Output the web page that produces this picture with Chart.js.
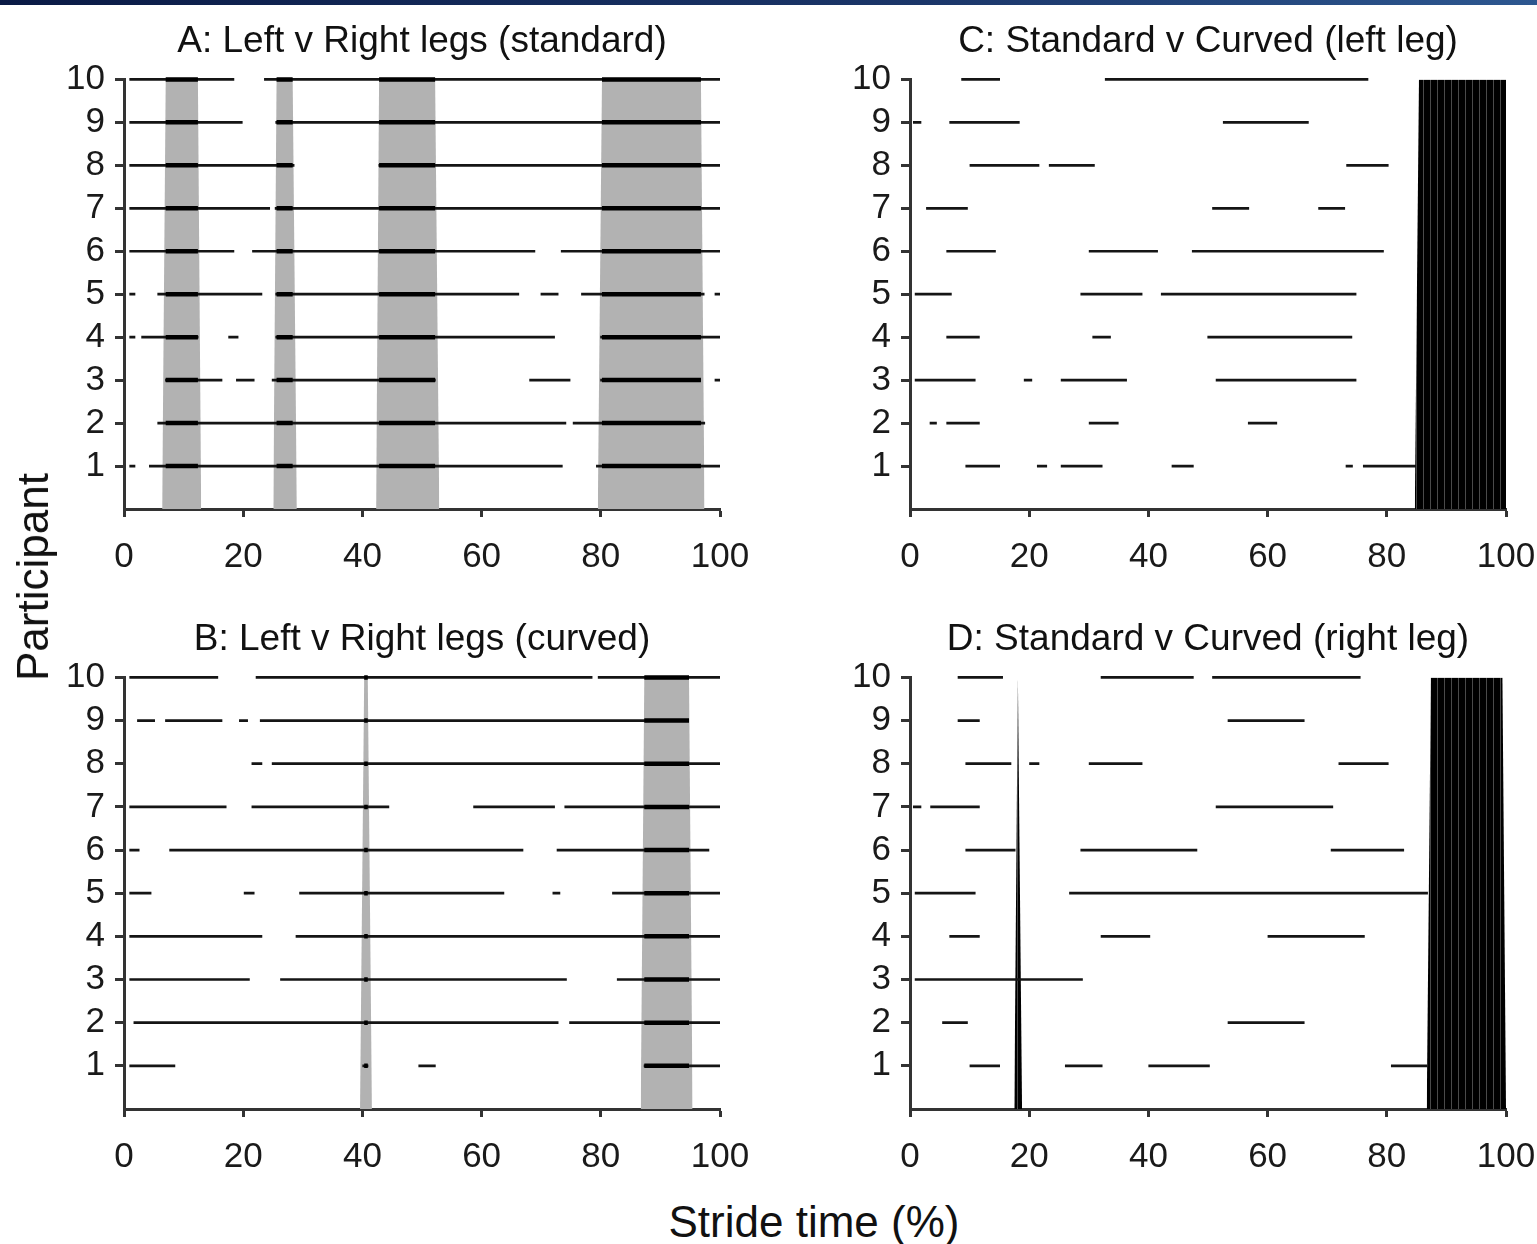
<!DOCTYPE html>
<html lang="en">
<head>
  <meta charset="UTF-8">
  <title>Stride time by participant</title>
  <script src="https://cdn.jsdelivr.net/npm/chart.js"></script>
  <style>
    body { margin: 0; background: #fff; width: 1537px; height: 1244px; position: relative; overflow: hidden;
           font-family: "Liberation Sans", Arial, sans-serif; color: #111; }
    .band { position: absolute; left: 0; top: 0; width: 1537px; height: 5px;
            background: linear-gradient(90deg, #0a1a45, #1b3669 60%, #2d5790); }
    canvas { position: absolute; }
    #ylab { position: absolute; left: 33px; top: 577px; font-size: 44px; white-space: nowrap;
            transform: translate(-50%, -50%) rotate(-90deg); }
    #xlab { position: absolute; left: 814px; top: 1222px; font-size: 44px; white-space: nowrap;
            transform: translate(-50%, -50%); }
  </style>
</head>
<body>
  <div class="band"></div>
  <canvas id="chartA" width="750" height="567" style="left:0;top:17px"></canvas>
  <canvas id="chartC" width="750" height="567" style="left:786px;top:17px"></canvas>
  <canvas id="chartB" width="750" height="569" style="left:0;top:615px"></canvas>
  <canvas id="chartD" width="750" height="569" style="left:786px;top:615px"></canvas>
  <div id="ylab">Participant</div>
  <div id="xlab">Stride time (%)</div>

  <script>
    const xTicks = [0, 20, 40, 60, 80, 100];
    const participants = [1, 2, 3, 4, 5, 6, 7, 8, 9, 10];

    const titleA = "A: Left v Right legs (standard)";
    const titleB = "B: Left v Right legs (curved)";
    const titleC = "C: Standard v Curved (left leg)";
    const titleD = "D: Standard v Curved (right leg)";

    // [participant, start %, end %]
    const segA = [
      [10, 0.9, 18.5], [10, 23.5, 100],
      [9, 0.9, 19.9], [9, 25.4, 100],
      [8, 0.9, 28.6], [8, 42.7, 100],
      [7, 0.9, 24.5], [7, 25.3, 100],
      [6, 0.9, 18.5], [6, 21.5, 69.0], [6, 73.3, 100],
      [5, 0.9, 1.9], [5, 5.6, 23.2], [5, 25.4, 66.3], [5, 69.9, 72.9], [5, 76.7, 97.4], [5, 99.1, 100],
      [4, 0.9, 1.9], [4, 2.9, 12.5], [4, 17.5, 19.2], [4, 25.4, 72.3], [4, 79.9, 100],
      [3, 6.9, 16.5], [3, 18.8, 21.9], [3, 24.8, 52.3], [3, 68.0, 74.9], [3, 79.9, 96.8], [3, 99.1, 100],
      [2, 5.6, 74.2], [2, 75.3, 97.5],
      [1, 0.9, 1.9], [1, 4.2, 73.6], [1, 79.2, 100]
    ];
    const segB = [
      [10, 0.9, 15.8], [10, 22.1, 78.6], [10, 79.5, 100],
      [9, 2.2, 5.2], [9, 6.9, 16.5], [9, 19.3, 20.8], [9, 22.8, 94.8],
      [8, 21.4, 23.2], [8, 24.8, 100],
      [7, 0.9, 17.2], [7, 21.4, 44.5], [7, 58.6, 72.3], [7, 73.9, 100],
      [6, 0.9, 2.6], [6, 7.6, 67.0], [6, 72.6, 98.2],
      [5, 0.9, 4.6], [5, 20.1, 21.9], [5, 29.4, 63.8], [5, 71.9, 73.2], [5, 81.9, 100],
      [4, 0.9, 23.2], [4, 28.8, 100],
      [3, 0.9, 21.1], [3, 26.2, 74.3], [3, 82.7, 100],
      [2, 1.6, 72.9], [2, 74.7, 100],
      [1, 0.9, 8.6], [1, 40.0, 41.0], [1, 49.4, 52.3], [1, 87.2, 100]
    ];
    const segC = [
      [10, 8.6, 15.1], [10, 32.7, 76.9],
      [9, 0.5, 1.9], [9, 6.6, 18.4], [9, 52.5, 66.9],
      [8, 10.0, 21.7], [8, 23.3, 31.0], [8, 73.2, 80.3],
      [7, 2.7, 9.7], [7, 50.7, 56.9], [7, 68.5, 73.0],
      [6, 6.1, 14.4], [6, 30.0, 41.6], [6, 47.3, 79.5],
      [5, 0.8, 7.0], [5, 28.6, 39.0], [5, 42.1, 74.9],
      [4, 6.1, 11.7], [4, 30.6, 33.7], [4, 49.9, 74.2],
      [3, 0.8, 11.0], [3, 19.1, 20.5], [3, 25.3, 36.4], [3, 51.3, 74.9],
      [2, 3.3, 4.5], [2, 6.1, 11.7], [2, 30.0, 35.0], [2, 56.7, 61.6],
      [1, 9.3, 15.1], [1, 21.3, 23.0], [1, 25.3, 32.3], [1, 43.9, 47.6], [1, 73.1, 74.3], [1, 76.0, 84.9]
    ];
    const segD = [
      [10, 8.0, 15.6], [10, 32.0, 47.6], [10, 50.7, 75.6],
      [9, 8.0, 11.7], [9, 53.3, 66.2],
      [8, 9.3, 17.0], [8, 20.0, 21.7], [8, 30.0, 39.0], [8, 71.9, 80.3],
      [7, 0.5, 1.9], [7, 3.4, 11.7], [7, 51.3, 71.0],
      [6, 9.3, 17.7], [6, 28.6, 48.2], [6, 70.6, 82.9],
      [5, 0.8, 11.0], [5, 26.7, 86.9],
      [4, 6.6, 11.7], [4, 32.0, 40.3], [4, 60.0, 76.3],
      [3, 0.8, 29.0],
      [2, 5.4, 9.7], [2, 53.3, 66.2],
      [1, 10.0, 15.1], [1, 26.0, 32.3], [1, 40.0, 50.3], [1, 80.7, 86.8]
    ];

    // significant clusters: [start at 0, start at 10, end at 10, end at 0]
    const shadeA = [[6.4, 7.0, 12.4, 12.95], [25.05, 25.6, 28.3, 29.0], [42.3, 42.8, 52.2, 52.9], [79.5, 80.2, 96.8, 97.4]];
    const shadeB = [[39.6, 40.3, 40.9, 41.6], [86.7, 87.3, 94.8, 95.4]];
    const shadeC = [[84.7, 85.4, 100, 100]];
    const shadeD = [[17.5, 18.1, 18.1, 18.8], [86.7, 87.4, 99.4, 100]];

    const fontFamily = '"Liberation Sans", Arial, sans-serif';

    // black with thin grey vertical stripes
    function stripePattern() {
      const c = document.createElement("canvas");
      c.width = 7; c.height = 1;
      const g = c.getContext("2d");
      g.fillStyle = "#000"; g.fillRect(0, 0, 7, 1);
      g.fillStyle = "#4a4a4a"; g.fillRect(0, 0, 1, 1);
      return g.createPattern(c, "repeat");
    }

    function toPoints(segs) {
      const pts = [];
      segs.forEach(([p, s, e]) => {
        pts.push({ x: s, y: p }, { x: e, y: p }, { x: e, y: null });
      });
      return pts;
    }

    // parts of each segment lying inside a cluster
    function overlaps(segs, shades) {
      const out = [];
      segs.forEach(([p, s, e]) => {
        shades.forEach(([b1, t1, t2, b2]) => {
          const lo = Math.max(s, t1), hi = Math.min(e, t2);
          if (hi > lo) out.push([p, lo, hi]);
        });
      });
      return out;
    }

    function drawPanel(id, title, segs, shades, shadeColor, thick) {
      const datasets = [];
      shades.forEach(([b1, t1, t2, b2]) => {
        datasets.push({
          data: [{ x: b1, y: 0 }, { x: t1, y: 10 }, { x: t2, y: 10 }, { x: b2, y: 0 }],
          fill: "origin",
          backgroundColor: shadeColor,
          borderColor: "rgba(0,0,0,0)",
          borderWidth: 1,
          pointRadius: 0,
          order: 3
        });
      });
      datasets.push({
        data: toPoints(segs),
        borderColor: "#151515",
        borderWidth: 2.7,
        pointRadius: 0,
        spanGaps: false,
        fill: false,
        clip: false,
        order: 2
      });
      if (thick) {
        datasets.push({
          data: toPoints(overlaps(segs, shades)),
          borderColor: "#000",
          borderWidth: 4.5,
          pointRadius: 0,
          spanGaps: false,
          fill: false,
          clip: false,
          order: 1
        });
      }

      new Chart(document.getElementById(id).getContext("2d"), {
        type: "line",
        data: { datasets: datasets },
        options: {
          responsive: false,
          animation: false,
          devicePixelRatio: 1,
          layout: { padding: { left: 0, right: 30, top: 0, bottom: 0 } },
          plugins: {
            legend: { display: false },
            tooltip: { enabled: false },
            title: {
              display: true,
              text: title,
              fullSize: false,
              color: "#111",
              font: { family: fontFamily, size: 37, weight: "normal", lineHeight: 1.2 },
              padding: { top: 3, bottom: 15 }
            }
          },
          scales: {
            x: {
              type: "linear",
              min: 0,
              max: 100,
              afterBuildTicks: (s) => { s.ticks = xTicks.map(v => ({ value: v })); },
              afterFit: (s) => { s.height = 75; s.paddingLeft = 0; s.paddingRight = 0; },
              border: { display: true, width: 3, color: "#333" },
              grid: { drawOnChartArea: false, drawTicks: true, tickLength: 8, tickWidth: 3, tickColor: "#333" },
              ticks: { color: "#1a1a1a", padding: 19, maxRotation: 0, autoSkip: false,
                       font: { family: fontFamily, size: 35 } }
            },
            y: {
              type: "linear",
              min: 0,
              max: 10,
              afterBuildTicks: (s) => { s.ticks = participants.map(v => ({ value: v })); },
              afterFit: (s) => { s.width = 124; s.paddingTop = 0; s.paddingBottom = 0; },
              border: { display: true, width: 3, color: "#333" },
              grid: { drawOnChartArea: false, drawTicks: true, tickLength: 9, tickWidth: 3, tickColor: "#333" },
              ticks: { color: "#1a1a1a", padding: 10, autoSkip: false,
                       font: { family: fontFamily, size: 35 } }
            }
          }
        }
      });
    }

    const black = stripePattern();
    drawPanel("chartA", titleA, segA, shadeA, "#b2b2b2", true);
    drawPanel("chartB", titleB, segB, shadeB, "#b2b2b2", true);
    drawPanel("chartC", titleC, segC, shadeC, black, false);
    drawPanel("chartD", titleD, segD, shadeD, black, false);
  </script>
</body>
</html>
